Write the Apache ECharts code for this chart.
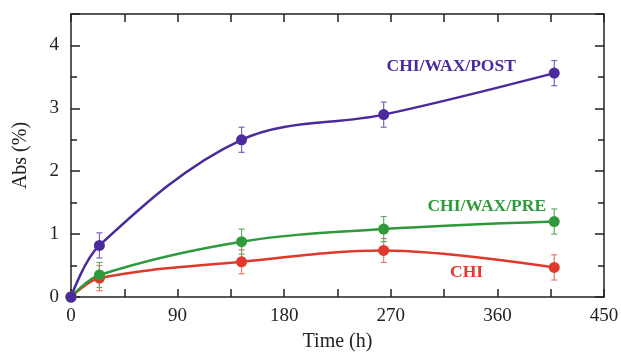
<!DOCTYPE html>
<html>
<head>
<meta charset="utf-8">
<script src="https://cdn.jsdelivr.net/npm/echarts@6/dist/echarts.min.js"></script>
<style>html,body{margin:0;padding:0;background:#fff;}#c{width:621px;height:352px;}</style>
</head>
<body>
<div id="c"></div>
<script>
var times = [0, 24, 144, 264, 408];
var postVals = [0, 0.82, 2.50, 2.90, 3.56];
var postErr = [0, 0.2, 0.2, 0.2, 0.2];
var preVals = [0, 0.35, 0.88, 1.08, 1.20];
var preErr = [0, 0.2, 0.2, 0.2, 0.2];
var chiVals = [0, 0.30, 0.56, 0.74, 0.47];
var chiErr = [0, 0.2, 0.19, 0.19, 0.2];
var xTicks = [0, 90, 180, 270, 360, 450];
var yTicks = [0, 1, 2, 3, 4];

var colPost = '#4a2a9c', colPre = '#2e9a3c', colChi = '#e0392b';
var errPost = '#7a66b8', errPre = '#5fae68', errChi = '#e87a6c';

function pairs(v){ return times.map(function(t,i){ return [t, v[i]]; }); }
function errData(v,e){ return times.map(function(t,i){ return [t, v[i]-e[i], v[i]+e[i]]; }).filter(function(d,i){ return e[i]>0; }); }

function errSeries(v,e,color){
  return {
    type:'custom', data: errData(v,e), z:1,
    renderItem:function(params, api){
      var x = api.value(0), lo = api.value(1), hi = api.value(2);
      var p1 = api.coord([x, lo]), p2 = api.coord([x, hi]);
      var w = 3;
      var st = {stroke: color, lineWidth: 1.2};
      return {type:'group', children:[
        {type:'line', shape:{x1:p1[0],y1:p1[1],x2:p2[0],y2:p2[1]}, style:st},
        {type:'line', shape:{x1:p1[0]-w,y1:p1[1],x2:p1[0]+w,y2:p1[1]}, style:st},
        {type:'line', shape:{x1:p2[0]-w,y1:p2[1],x2:p2[0]+w,y2:p2[1]}, style:st}
      ]};
    }
  };
}
function lineSeries(v,color,name,lx,ly){
  return {
    type:'line', name:name, data: pairs(v), smooth:0.35,
    symbol:'circle', symbolSize:11, z:3,
    lineStyle:{color:color, width:2.5}, itemStyle:{color:color},
    markPoint:{symbol:'circle', symbolSize:0, silent:true,
      data:[{coord:[lx,ly], label:{show:true, formatter:name, position:'inside', color:color,
        fontFamily:'Liberation Serif', fontWeight:'bold', fontSize:17.5}}]}
  };
}

var axisFont = {fontFamily:'Liberation Serif', fontSize:19, color:'#222'};
var chart = echarts.init(document.getElementById('c'));
chart.setOption({
  animation:false,
  backgroundColor:'#fff',
  grid:{left:71, right:17, top:14, bottom:55, containLabel:false, outerBoundsMode:'none'},
  xAxis:[{
    type:'value', min:0, max:450, interval:90,
    name:'Time (h)', nameLocation:'middle', nameGap:35,
    nameTextStyle:{fontFamily:'Liberation Serif', fontSize:20, color:'#222'},
    axisLine:{onZero:false, lineStyle:{color:'#222', width:1.5}},
    axisTick:{inside:true, length:8, lineStyle:{color:'#222', width:1.5}},
    minorTick:{show:true, splitNumber:2, length:8, lineStyle:{color:'#222', width:1.5}},
    axisLabel:Object.assign({margin:10, formatter:function(v){ return xTicks.indexOf(v)>=0 ? String(v) : ''; }}, axisFont),
    splitLine:{show:false}
  },{
    type:'value', min:0, max:450, interval:90, position:'top',
    axisLine:{onZero:false, lineStyle:{color:'#222', width:1.5}},
    axisTick:{inside:true, length:8, lineStyle:{color:'#222', width:1.5}},
    minorTick:{show:true, splitNumber:2, length:8, lineStyle:{color:'#222', width:1.5}},
    axisLabel:{show:false}, splitLine:{show:false}
  }],
  yAxis:[{
    type:'value', min:0, max:4.5, interval:1,
    name:'Abs (%)', nameLocation:'middle', nameGap:40,
    nameTextStyle:{fontFamily:'Liberation Serif', fontSize:20, color:'#222'},
    axisLine:{show:true, onZero:false, lineStyle:{color:'#222', width:1.5}},
    axisTick:{show:true, inside:true, length:9, lineStyle:{color:'#222', width:1.5}},
    minorTick:{show:true, splitNumber:2, length:6, lineStyle:{color:'#222', width:1.5}},
    axisLabel:Object.assign({margin:12, formatter:function(v){ return yTicks.indexOf(v)>=0 ? String(v) : ''; }}, axisFont),
    splitLine:{show:false}
  },{
    type:'value', min:0, max:4.5, interval:1, position:'right',
    axisLine:{show:true, onZero:false, lineStyle:{color:'#222', width:1.5}},
    axisTick:{show:true, inside:true, length:9, lineStyle:{color:'#222', width:1.5}},
    minorTick:{show:true, splitNumber:2, length:6, lineStyle:{color:'#222', width:1.5}},
    axisLabel:{show:false}, splitLine:{show:false}
  }],
  series:[
    errSeries(chiVals, chiErr, errChi),
    errSeries(preVals, preErr, errPre),
    errSeries(postVals, postErr, errPost),
    lineSeries(chiVals, colChi, 'CHI', 334, 0.39),
    lineSeries(preVals, colPre, 'CHI/WAX/PRE', 351, 1.44),
    lineSeries(postVals, colPost, 'CHI/WAX/POST', 321, 3.66)
  ]
});
</script>
</body>
</html>
